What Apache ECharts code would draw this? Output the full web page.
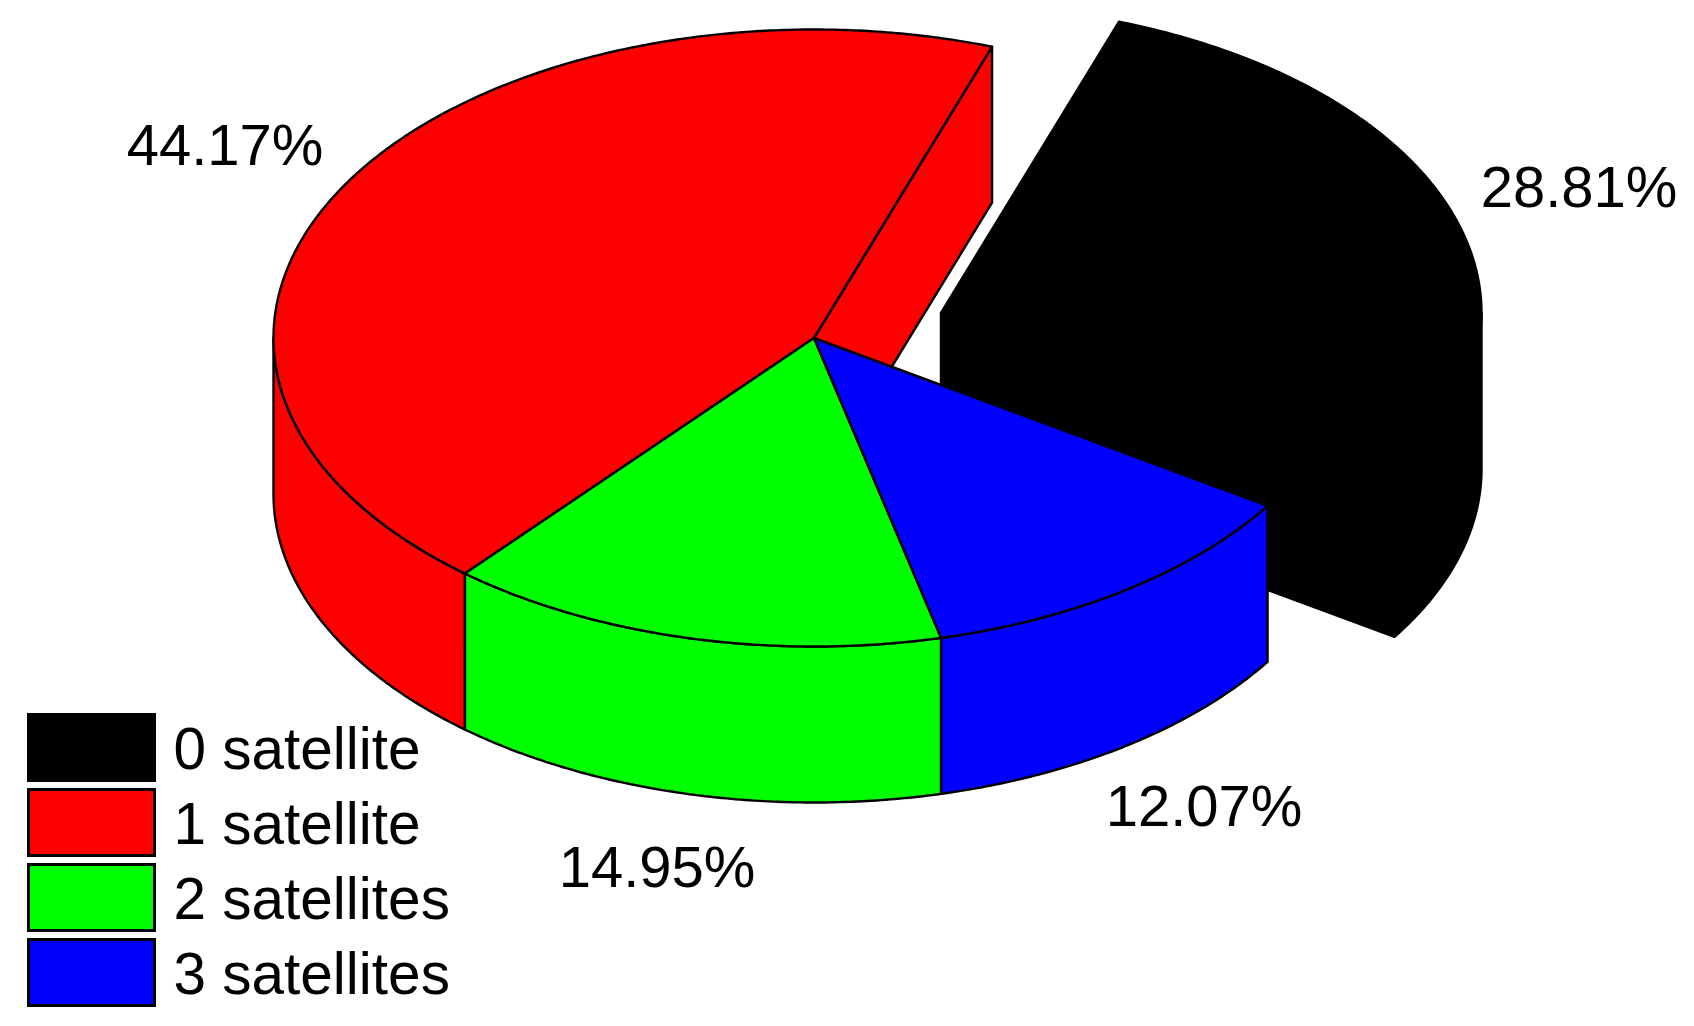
<!DOCTYPE html>
<html>
<head>
<meta charset="utf-8">
<style>html,body{margin:0;padding:0;background:#fff}#c{width:1694px;height:1026px}</style>
<script src="https://cdn.jsdelivr.net/npm/echarts@6/dist/echarts.min.js"></script>
</head>
<body>
<div id="c"></div>
<script>
// Data
const categories = ['0 satellite', '1 satellite', '2 satellites', '3 satellites'];
const shares = [28.81, 44.17, 14.95, 12.07];
const colors = ['#000000', '#ff0000', '#00ff00', '#0000ff'];
const exploded = [true, false, false, false];

// Projection of the pie
const CX = 814, CY = 338, RX = 540.5, RY = 308.5, DEPTH = 156;
const START_DEG = 32.95;
const EXPLODE = [127, -25];
const LABEL_POS = [[1579, 191], [225, 149], [657, 871], [1204, 810]];
const FONT = 'Liberation Sans, Arial, sans-serif';

const chart = echarts.init(document.getElementById('c'), null, {renderer: 'canvas'});
const total = shares.reduce((a, b) => a + b, 0);
const ranges = [];
let cursor = START_DEG;
shares.forEach(v => { const next = cursor - 360 * v / total; ranges.push([next, cursor]); cursor = next; });

function pt(deg, ox, oy, dz) {
  const t = deg * Math.PI / 180;
  return [CX + ox + RX * Math.cos(t), CY + oy + dz + RY * Math.sin(t)];
}
function arc(a, b, ox, oy, dz) {
  const n = Math.max(2, Math.ceil((b - a) / 0.5));
  const out = [];
  for (let i = 0; i <= n; i++) out.push(pt(a + (b - a) * i / n, ox, oy, dz));
  return out;
}
function renderSlice(params, api) {
  const i = params.seriesIndex;
  const [a, b] = ranges[i];
  const ox = exploded[i] ? EXPLODE[0] : 0, oy = exploded[i] ? EXPLODE[1] : 0;
  const style = {fill: colors[i], stroke: '#000', lineWidth: 2.4, lineJoin: 'round'};
  const children = [];
  const poly = points => ({type: 'polygon', shape: {points}, style});
  // Exposed radial face at the clockwise end of the slice
  const next = (i + shares.length - 1) % shares.length;
  if ((exploded[i] || exploded[next]) && Math.cos(b * Math.PI / 180) > 0) {
    const c = [CX + ox, CY + oy], e = pt(b, ox, oy, 0);
    children.push(poly([c, e, [e[0], e[1] + DEPTH], [c[0], c[1] + DEPTH]]));
  }
  // Front-facing outer wall
  for (let k = -2; k <= 1; k++) {
    const lo = Math.max(a, k * 360), hi = Math.min(b, k * 360 + 180);
    if (hi > lo) children.push(poly(arc(lo, hi, ox, oy, 0).concat(arc(lo, hi, ox, oy, DEPTH).reverse())));
  }
  // Top face
  children.push(poly([[CX + ox, CY + oy]].concat(arc(a, b, ox, oy, 0))));
  // Percentage label
  children.push({
    type: 'text',
    style: {
      x: LABEL_POS[i][0], y: LABEL_POS[i][1],
      text: api.value(0).toFixed(2) + '%',
      fill: '#000', font: '58px ' + FONT, align: 'center', verticalAlign: 'middle'
    }
  });
  return {type: 'group', children};
}

chart.setOption({
  animation: false,
  backgroundColor: '#ffffff',
  legend: {
    orient: 'vertical', left: 27, top: 713, height: 312, padding: 0,
    itemWidth: 126, itemHeight: 66, itemGap: 5.5,
    icon: 'rect',
    itemStyle: {borderColor: '#000', borderWidth: 3},
    formatter: name => '{a|' + name + '}',
    textStyle: {
      color: '#000', fontFamily: FONT, fontSize: 58.5, padding: [0, 0, 0, 14],
      rich: {a: {color: '#000', fontFamily: FONT, fontSize: 58.5, lineHeight: 70, verticalAlign: 'bottom'}}
    },
    selectedMode: false,
    data: categories
  },
  series: categories.map((name, i) => ({
    type: 'custom',
    name,
    coordinateSystem: 'none',
    renderItem: renderSlice,
    itemStyle: {color: colors[i]},
    data: [shares[i]],
    silent: true
  }))
});
</script>
</body>
</html>
